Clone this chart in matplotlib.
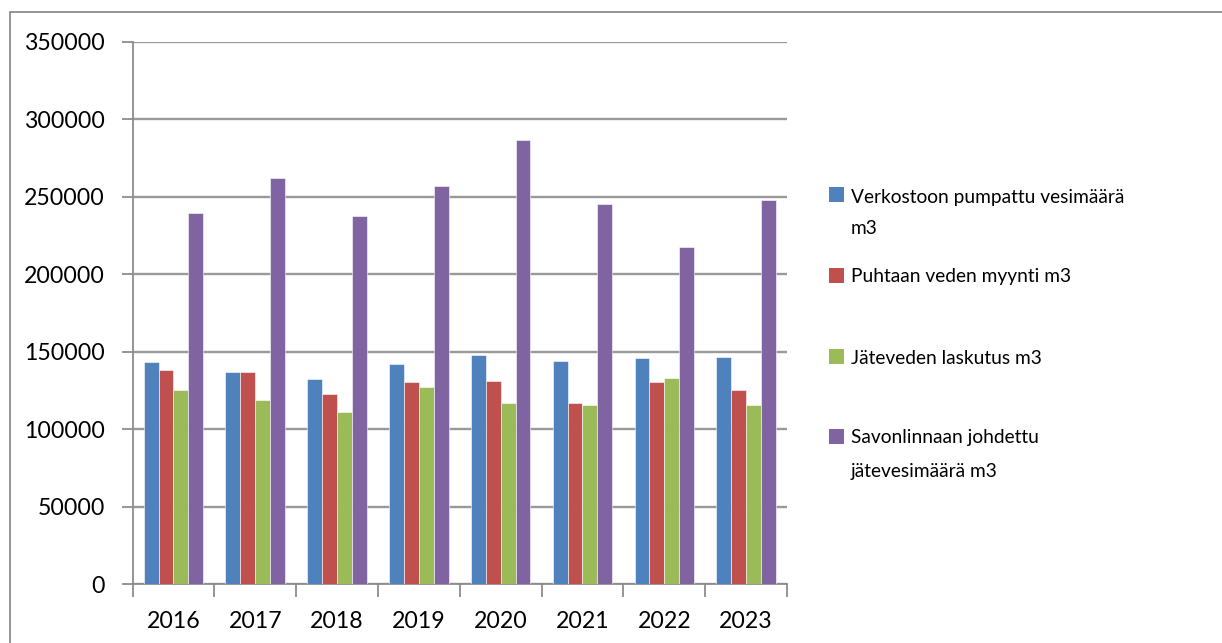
import matplotlib
matplotlib.use("Agg")
import matplotlib.pyplot as plt
from matplotlib.patches import Rectangle
import numpy as np

years = ["2016", "2017", "2018", "2019", "2020", "2021", "2022", "2023"]
series_names = ["Verkostoon pumpattu vesimäärä\nm3", "Puhtaan veden myynti m3",
                "Jäteveden laskutus m3", "Savonlinnaan johdettu\njätevesimäärä m3"]
pumped = [143200, 137000, 132300, 142100, 148300, 144100, 146000, 146400]
sold = [138100, 137000, 122600, 130300, 131000, 117000, 130800, 125400]
billed = [125200, 119000, 111300, 127300, 117000, 116000, 133100, 116000]
savonlinna = [239700, 262200, 237700, 257000, 286600, 245200, 217800, 248000]
colors = ["#4F81BD", "#C0504D", "#9BBB59", "#8064A2"]
yticks = [0, 50000, 100000, 150000, 200000, 250000, 300000, 350000]

plt.rcParams['font.family'] = ['Lato', 'DejaVu Sans']
W, H = 1222, 643
fig = plt.figure(figsize=(W/100, H/100), dpi=100)
fig.patches.append(Rectangle((10/W, -0.1), 1.2, (H-12)/H + 0.1, transform=fig.transFigure,
                             fill=False, edgecolor="#8c8c8c", linewidth=1.3))
ax = fig.add_axes([132.5/W, 1 - 584.3/H, (787-132.5)/W, (584.3-42)/H])

x = np.arange(len(years))
bw = 1/5.5
data = [pumped, sold, billed, savonlinna]
for i, (vals, c) in enumerate(zip(data, colors)):
    ax.bar(x + (i - 1.5)*bw, vals, width=bw, color=c, edgecolor="white", linewidth=0.4, zorder=3)

ax.set_xlim(-0.5, len(years) - 0.5)
ax.set_ylim(0, 350000)
ax.set_yticks(yticks)
ax.set_yticklabels([str(v) for v in yticks], fontsize=16.7)
ax.yaxis.grid(True, color="#999999", linewidth=1.7, zorder=0)
ax.set_xticks(x)
ax.set_xticklabels(years, fontsize=16.7)
ax.set_xticks(np.arange(-0.5, len(years)), minor=True)
ax.tick_params(axis='x', which='major', length=0, pad=19)
ax.tick_params(axis='x', which='minor', length=9, width=1.3, color="#8c8c8c")
ax.tick_params(axis='y', length=8, width=1.3, color="#8c8c8c", pad=12)
for s in ["top", "right"]:
    ax.spines[s].set_visible(False)
for s in ["left", "bottom"]:
    ax.spines[s].set_color("#8c8c8c")
    ax.spines[s].set_linewidth(1.3)

# legend
sq_top = [187, 268, 349.3, 428.7]
baselines = [[203, 234.5], [282], [363.5], [443, 476.5]]
for name, c, st, bl in zip(series_names, colors, sq_top, baselines):
    fig.patches.append(Rectangle((829/W, 1 - (st+15)/H), 15/W, 15/H, transform=fig.transFigure,
                                 facecolor=c, edgecolor="none"))
    for line, b in zip(name.split("\n"), bl):
        fig.text(850.5/W, 1 - b/H, line, fontsize=13.8, va="baseline", ha="left")

fig.savefig("out.png", dpi=100)
